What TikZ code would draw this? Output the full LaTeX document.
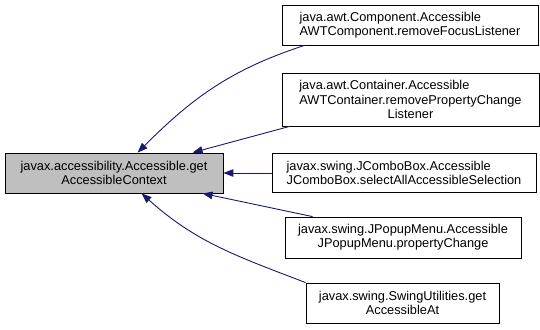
\documentclass[tikz,border=0pt]{standalone}
\usepackage{fontspec}
\setmainfont{Liberation Sans}
\usetikzlibrary{arrows.meta}

\definecolor{edgeBlue}{HTML}{191970}
\definecolor{mainGray}{HTML}{BFBFBF}

\begin{document}
\begin{tikzpicture}[
    x=1pt, y=1pt,
    >={Triangle[length=10pt,width=7.5pt]},
    % Define box and edge looks locally
    classBox/.style={draw=black, line width=0.8pt, fill=white, inner sep=0pt, align=center,
        font=\fontsize{12.8}{14.3}\selectfont},
    mainBox/.style={classBox, fill=mainGray},
    callEdge/.style={->, edgeBlue, line width=0.9pt}
]
    \useasboundingbox (0,0) rectangle (540,329);

    % --- CALLED FUNCTION (LEFT) ---
    \node[mainBox, minimum width=218pt, minimum height=40pt] (getContext) at (114,156)
        {javax.accessibility.Accessible.get\\AccessibleContext};

    % --- CALLERS (RIGHT COLUMN) ---
    \node[classBox, minimum width=256pt, minimum height=40pt, align=left] (compFocus) at (410,304)
        {java.awt.Component.Accessible\\AWTComponent.removeFocusListener};
    \node[classBox, minimum width=257pt, minimum height=53pt, align=left] (contProp) at (410.5,229.5)
        {java.awt.Container.Accessible\\AWTContainer.removePropertyChange\\\hspace*{\fill}Listener\hspace*{\fill}};
    \node[classBox, minimum width=264pt, minimum height=39pt, align=left] (comboSel) at (404,156)
        {javax.swing.JComboBox.Accessible\\JComboBox.selectAllAccessibleSelection};
    \node[classBox, minimum width=236pt, minimum height=41pt] (popupProp) at (403,91.5)
        {javax.swing.JPopupMenu.Accessible\\JPopupMenu.propertyChange};
    \node[classBox, minimum width=193pt, minimum height=40pt] (swingAt) at (402.5,26)
        {javax.swing.SwingUtilities.get\\AccessibleAt};

    % --- CALL EDGES (CALLER TO CALLEE) ---
    \draw[callEdge] ([xshift=23pt]compFocus.south west) to[out=198, in=45] ([xshift=133pt]getContext.north west);
    \draw[callEdge] ([xshift=8pt]contProp.south west) -- ([xshift=188pt]getContext.north west);
    \draw[callEdge] (comboSel.west) -- (getContext.east);
    \draw[callEdge] ([xshift=28pt]popupProp.north west) -- ([xshift=198pt]getContext.south west);
    \draw[callEdge] (swingAt.north west) to[out=159, in=-42] ([xshift=137pt]getContext.south west); % flattens near the box

\end{tikzpicture}
\end{document}
